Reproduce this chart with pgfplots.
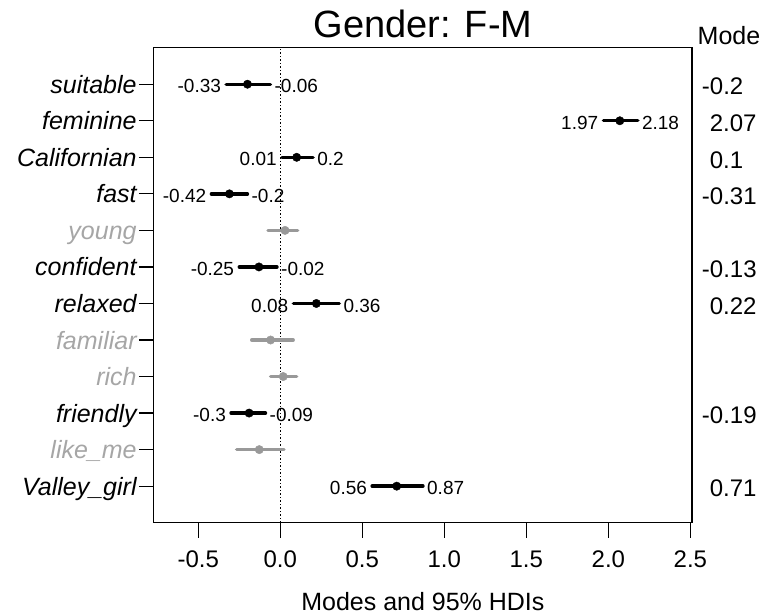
\documentclass[border=0pt]{standalone}
\usepackage{pgfplots}
\pgfplotsset{compat=1.18}
\usepackage{fontspec}
\setmainfont{Liberation Sans}
\definecolor{gline}{RGB}{153,153,153}
\definecolor{gtext}{RGB}{166,166,166}
\newcommand{\fs}[1]{\fontsize{#1bp}{#1bp}\selectfont}
\begin{document}
\begin{tikzpicture}
\path[use as bounding box] (0,0) rectangle (762bp,614bp);
\begin{axis}[
  at={(153.8bp,91.3bp)}, anchor=south west,
  scale only axis, width=538.2bp, height=475bp,
  xmin=-0.771, xmax=2.51, ymin=0, ymax=13,
  clip=false,
  /pgf/number format/assume math mode=true,
  axis line style={line width=1.2bp, black},
  xtick={-0.5,0,0.5,1,1.5,2,2.5},
  xticklabels={-0.5,0.0,0.5,1.0,1.5,2.0,2.5},
  ytick={1,2,3,4,5,6,7,8,9,10,11,12},
  yticklabels={Valley\_girl, \textcolor{gtext}{like\_me}, friendly, \textcolor{gtext}{rich}, \textcolor{gtext}{familiar}, relaxed, confident, \textcolor{gtext}{young}, fast, Californian, feminine, suitable},
  tick align=outside, xtick pos=bottom, ytick pos=left,
  major tick length=15bp,
  tick style={line width=1.2bp, black},
  xticklabel style={font=\fs{24}},
  xticklabel shift=10bp,
  yticklabel style={font=\fs{25}\itshape, inner xsep=2bp, anchor=base east, yshift=-9bp},
  title={Gender: F-M},
  title style={font=\fs{38}, at={(0.5,1)}, anchor=base, yshift=4.5bp},
  xlabel={Modes and 95\% HDIs},
  xlabel style={font=\fs{25}, at={(0.5,0)}, anchor=base, yshift=-87.3bp},
]
% reference line at zero
\addplot[black, dash pattern=on 1.5bp off 2bp, line width=1.3bp] coordinates {(0,0) (0,13)};
% HDIs (credible)
\addplot[black, line width=3.4bp, line cap=round] coordinates {(-0.33,12) (-0.06,12)};
\addplot[black, line width=3.4bp, line cap=round] coordinates {(1.97,11) (2.18,11)};
\addplot[black, line width=3.4bp, line cap=round] coordinates {(0.01,10) (0.2,10)};
\addplot[black, line width=3.4bp, line cap=round] coordinates {(-0.42,9) (-0.2,9)};
\addplot[black, line width=3.4bp, line cap=round] coordinates {(-0.25,7) (-0.02,7)};
\addplot[black, line width=3.4bp, line cap=round] coordinates {(0.08,6) (0.36,6)};
\addplot[black, line width=3.4bp, line cap=round] coordinates {(-0.3,3) (-0.09,3)};
\addplot[black, line width=3.4bp, line cap=round] coordinates {(0.56,1) (0.87,1)};
% HDIs (not credible)
\addplot[gline, line width=3.4bp, line cap=round] coordinates {(-0.075,8) (0.106,8)};
\addplot[gline, line width=3.4bp, line cap=round] coordinates {(-0.174,5) (0.079,5)};
\addplot[gline, line width=3.4bp, line cap=round] coordinates {(-0.059,4) (0.100,4)};
\addplot[gline, line width=3.4bp, line cap=round] coordinates {(-0.266,2) (0.023,2)};
% modes
\addplot[only marks, mark=*, mark size=4.2bp, black] coordinates {(-0.2,12) (2.07,11) (0.1,10) (-0.31,9) (-0.13,7) (0.22,6) (-0.19,3) (0.71,1)};
\addplot[only marks, mark=*, mark size=4.2bp, gline, mark options={fill=gline}] coordinates {(0.029,8) (-0.059,5) (0.018,4) (-0.128,2)};
% lower labels
\addplot[draw=none, nodes near coords, point meta=explicit symbolic,
  nodes near coords style={anchor=east, font=\fs{19}, inner xsep=5bp, yshift=-2bp, black}]
  coordinates {(-0.33,12) [-0.33] (1.97,11) [1.97] (0.01,10) [0.01] (-0.42,9) [-0.42] (-0.25,7) [-0.25] (0.08,6) [0.08] (-0.3,3) [-0.3] (0.56,1) [0.56]};
% upper labels
\addplot[draw=none, nodes near coords, point meta=explicit symbolic,
  nodes near coords style={anchor=west, font=\fs{19}, inner xsep=4bp, yshift=-2bp, black}]
  coordinates {(-0.06,12) [-0.06] (2.18,11) [2.18] (0.2,10) [0.2] (-0.2,9) [-0.2] (-0.02,7) [-0.02] (0.36,6) [0.36] (-0.09,3) [-0.09] (0.87,1) [0.87]};
% mode column
\addplot[draw=none, nodes near coords, point meta=explicit symbolic,
  nodes near coords style={anchor=west, font=\fs{24}, inner sep=0pt, yshift=-2.5bp, black}]
  coordinates {(2.5695,12) [-0.2] (2.5695,9) [-0.31] (2.5695,7) [-0.13] (2.5695,3) [-0.19]};
\addplot[draw=none, nodes near coords, point meta=explicit symbolic,
  nodes near coords style={anchor=west, font=\fs{24}, inner sep=0pt, yshift=-2.5bp, black}]
  coordinates {(2.617,11) [2.07] (2.617,10) [0.1] (2.617,6) [0.22] (2.617,1) [0.71]};
\node[anchor=base, font=\fs{25}] at (axis description cs:1.0687,1.0057) {Mode};
\end{axis}
\end{tikzpicture}
\end{document}
